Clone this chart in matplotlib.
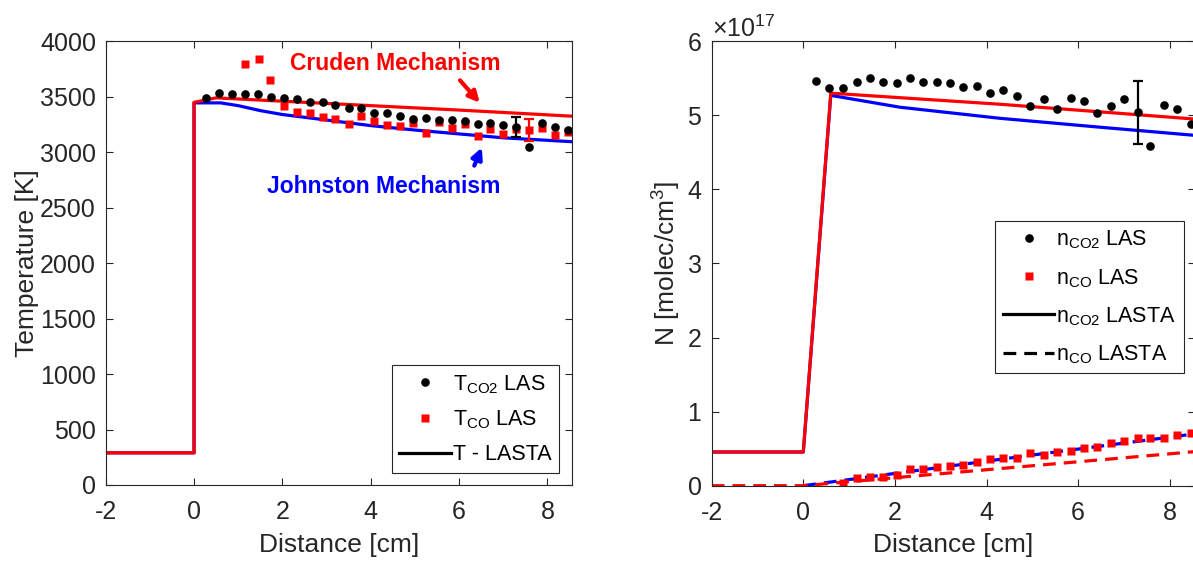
import matplotlib
matplotlib.use('Agg')
import matplotlib.pyplot as plt
from matplotlib.lines import Line2D
import numpy as np

plt.rcParams['font.family'] = ['Liberation Sans', 'DejaVu Sans']
plt.rcParams['mathtext.default'] = 'regular'
plt.rcParams['axes.unicode_minus'] = False

# ---- left panel: temperature ----
t_cruden_x = [-2, 0, 0, 0.5, 2, 4, 6, 8.55]
t_cruden_y = [290, 290, 3450, 3490, 3460, 3420, 3380, 3325]
t_johnston_x = [-2, 0, 0, 0.6, 1.0, 1.5, 2, 3, 4, 5, 6, 7, 8.55]
t_johnston_y = [290, 290, 3445, 3445, 3420, 3375, 3340, 3290, 3240, 3200, 3165, 3130, 3095]

t_co2_x = [0.27, 0.57, 0.86, 1.16, 1.45, 1.74, 2.03, 2.33, 2.62, 2.91, 3.20, 3.50, 3.79, 4.08,
           4.37, 4.67, 4.96, 5.25, 5.55, 5.84, 6.13, 6.42, 6.71, 7.00, 7.30, 7.58, 7.87, 8.17, 8.47]
t_co2_y = [3487, 3538, 3523, 3523, 3523, 3502, 3493, 3478, 3456, 3451, 3426, 3397, 3397, 3352,
           3357, 3330, 3300, 3306, 3290, 3291, 3282, 3255, 3261, 3246, 3228, 3051, 3261, 3225, 3200]
t_co_x = [1.15, 1.46, 1.73, 2.03, 2.33, 2.62, 2.91, 3.20, 3.50, 3.79, 4.08, 4.37, 4.67, 4.96,
          5.25, 5.55, 5.84, 6.13, 6.42, 6.71, 7.00, 7.30, 7.58, 7.87, 8.17, 8.47]
t_co_y = [3793, 3838, 3652, 3420, 3360, 3352, 3315, 3300, 3252, 3330, 3282, 3246, 3237, 3261,
          3171, 3276, 3222, 3252, 3150, 3210, 3162, 3210, 3201, 3222, 3156, 3186]
t_co2_err = (7.30, 3225, 90)
t_co_err = (7.58, 3201, 96)

# ---- right panel: number density (x 1e17) ----
n_cruden_x = [-2, 0, 0.6, 4.3, 8.55]
n_cruden_y = [0.455, 0.455, 5.30, 5.15, 4.95]
n_johnston_x = [-2, 0, 0.6, 2.11, 4.3, 6.48, 8.55]
n_johnston_y = [0.455, 0.455, 5.27, 5.11, 4.96, 4.84, 4.73]
nco_cruden_x = [-2, 0, 5.57, 8.55]
nco_cruden_y = [0, 0, 0.30, 0.46]
nco_johnston_x = [0, 3.86, 5.57, 8.55]
nco_johnston_y = [0, 0.32, 0.46, 0.70]

n_co2_x = [0.28, 0.57, 0.86, 1.17, 1.46, 1.75, 2.04, 2.33, 2.62, 2.91, 3.20, 3.49, 3.79, 4.08,
           4.37, 4.66, 4.95, 5.26, 5.55, 5.84, 6.13, 6.42, 6.71, 7.00, 7.30, 7.58, 7.88, 8.17, 8.46]
n_co2_y = [5.47, 5.37, 5.37, 5.45, 5.51, 5.45, 5.44, 5.51, 5.45, 5.45, 5.44, 5.38, 5.39, 5.30,
           5.34, 5.26, 5.12, 5.22, 5.09, 5.23, 5.19, 5.03, 5.12, 5.22, 5.04, 4.58, 5.14, 5.08, 4.88]
n_co_x = [0.86, 1.17, 1.46, 1.75, 2.04, 2.33, 2.62, 2.91, 3.20, 3.49, 3.79, 4.08, 4.37, 4.66,
          4.95, 5.26, 5.55, 5.84, 6.13, 6.42, 6.71, 7.00, 7.30, 7.58, 7.88, 8.17, 8.46]
n_co_y = [0.04, 0.10, 0.12, 0.12, 0.15, 0.22, 0.22, 0.25, 0.26, 0.28, 0.32, 0.36, 0.38, 0.38,
          0.44, 0.42, 0.46, 0.47, 0.51, 0.52, 0.58, 0.60, 0.64, 0.64, 0.64, 0.68, 0.71]
n_co2_err = (7.30, 5.04, 0.42)

SCALE = 1e17
GRAY = '#262626'
LW = 2.3
TICK_FS = 18
LABEL_FS = 19
LEG_FS = 15.5
DOT_MS = 6.2
SQ_MS = 5.4
DASH = (0, (4, 2.5))


def style_axes(ax):
    for s in ax.spines.values():
        s.set_color(GRAY)
        s.set_linewidth(0.8)
    ax.tick_params(direction='in', length=5, width=0.8, color=GRAY, labelcolor=GRAY,
                   labelsize=TICK_FS, top=True, right=True)
    ax.tick_params(axis='x', pad=11)
    ax.tick_params(axis='y', pad=7)


def make_legend(ax, handles, labels, anchor, spacing):
    leg = ax.legend(handles, labels, loc='lower right', bbox_to_anchor=anchor, fontsize=LEG_FS,
                    frameon=True, fancybox=False, framealpha=1, edgecolor=GRAY,
                    handlelength=2.4, handletextpad=0.1, labelspacing=spacing, borderpad=0.35,
                    borderaxespad=0)
    leg.get_frame().set_linewidth(0.8)
    return leg


fig = plt.figure(figsize=(11.93, 5.62), dpi=100)

# left panel
ax1 = fig.add_axes([105.7 / 1193, 1 - 485 / 562, 466 / 1193, 443.7 / 562])
ax1.plot(t_johnston_x, t_johnston_y, color='blue', lw=LW)
ax1.plot(t_cruden_x, t_cruden_y, color='red', lw=LW)
ax1.plot(t_co_x, t_co_y, 's', color='red', ms=SQ_MS, mec='none')
ax1.plot(t_co2_x, t_co2_y, 'o', color='black', ms=DOT_MS, mec='none')
ax1.errorbar([t_co2_err[0]], [t_co2_err[1]], yerr=[t_co2_err[2]], fmt='none',
             ecolor='black', elinewidth=1.6, capsize=3.5, capthick=1.6)
ax1.errorbar([t_co_err[0]], [t_co_err[1]], yerr=[t_co_err[2]], fmt='none',
             ecolor='red', elinewidth=1.6, capsize=3.5, capthick=1.6)
ax1.set_xlim(-2, 8.55)
ax1.set_ylim(0, 4000)
ax1.set_xticks([-2, 0, 2, 4, 6, 8])
ax1.set_yticks(np.arange(0, 4001, 500))
ax1.set_xlabel('Distance [cm]', fontsize=LABEL_FS, color=GRAY, labelpad=6)
ax1.set_ylabel('Temperature [K]', fontsize=LABEL_FS, color=GRAY, labelpad=1)
style_axes(ax1)

ax1.text(4.55, 3800, 'Cruden Mechanism', color='red', fontsize=16.5, fontweight='bold',
         ha='center', va='center')
ax1.annotate('', xy=(6.51, 3427), xytext=(5.98, 3667),
             arrowprops=dict(arrowstyle='-|>', color='red', lw=3, mutation_scale=16))
ax1.text(4.3, 2690, 'Johnston Mechanism', color='blue', fontsize=16.5, fontweight='bold',
         ha='center', va='center')
ax1.annotate('', xy=(6.54, 3065), xytext=(6.32, 2856),
             arrowprops=dict(arrowstyle='-|>', color='blue', lw=3, mutation_scale=16))

h1 = [Line2D([], [], ls='none', marker='o', color='black', ms=DOT_MS, mec='none'),
      Line2D([], [], ls='none', marker='s', color='red', ms=SQ_MS, mec='none'),
      Line2D([], [], color='black', lw=LW)]
l1 = ['T$_{CO2}$ LAS', 'T$_{CO}$ LAS', 'T - LASTA']
make_legend(ax1, h1, l1, (0.973, 0.028), 0.6)

# right panel
ax2 = fig.add_axes([711.7 / 1193, 1 - 485.7 / 562, 483.2 / 1193, 444.4 / 562])
ax2.plot(n_johnston_x, np.array(n_johnston_y) * SCALE, color='blue', lw=LW)
ax2.plot(n_cruden_x, np.array(n_cruden_y) * SCALE, color='red', lw=LW)
ax2.plot(nco_johnston_x, np.array(nco_johnston_y) * SCALE, color='blue', lw=LW, ls=DASH)
ax2.plot(nco_cruden_x, np.array(nco_cruden_y) * SCALE, color='red', lw=LW, ls=DASH)
ax2.plot(n_co_x, np.array(n_co_y) * SCALE, 's', color='red', ms=SQ_MS, mec='none')
ax2.plot(n_co2_x, np.array(n_co2_y) * SCALE, 'o', color='black', ms=DOT_MS, mec='none')
ax2.errorbar([n_co2_err[0]], [n_co2_err[1] * SCALE], yerr=[n_co2_err[2] * SCALE], fmt='none',
             ecolor='black', elinewidth=1.6, capsize=3.5, capthick=1.6)
ax2.set_xlim(-2, 8.55)
ax2.set_ylim(0, 6 * SCALE)
ax2.set_xticks([-2, 0, 2, 4, 6, 8])
ax2.set_yticks(np.arange(0, 7) * SCALE)
ax2.ticklabel_format(axis='y', style='sci', scilimits=(0, 0), useMathText=True)
ax2.yaxis.get_offset_text().set_fontsize(TICK_FS)
ax2.yaxis.get_offset_text().set_color(GRAY)
ax2.set_xlabel('Distance [cm]', fontsize=LABEL_FS, color=GRAY, labelpad=6)
ax2.set_ylabel('N [molec/cm$^3$]', fontsize=LABEL_FS, color=GRAY, labelpad=3)
style_axes(ax2)

h2 = [Line2D([], [], ls='none', marker='o', color='black', ms=DOT_MS, mec='none'),
      Line2D([], [], ls='none', marker='s', color='red', ms=SQ_MS, mec='none'),
      Line2D([], [], color='black', lw=LW),
      Line2D([], [], color='black', lw=LW, ls=DASH)]
l2 = ['n$_{CO2}$ LAS', 'n$_{CO}$ LAS', 'n$_{CO2}$ LASTA', 'n$_{CO}$ LASTA']
make_legend(ax2, h2, l2, (0.977, 0.253), 0.72)

fig.savefig('out.png', dpi=100)
